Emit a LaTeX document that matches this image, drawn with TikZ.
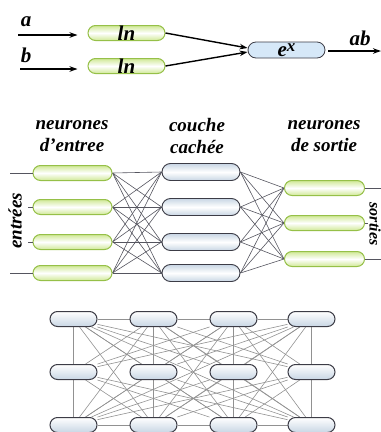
\documentclass[tikz,border=0pt]{standalone}
\usepackage{fontspec}
\setmainfont{Liberation Serif}
\usetikzlibrary{arrows.meta,backgrounds}
\definecolor{gedge}{RGB}{150,192,72}
\definecolor{gfill}{RGB}{208,232,150}
\definecolor{bfill}{RGB}{200,214,228}
\definecolor{efill}{RGB}{214,232,248}
\definecolor{nline}{RGB}{60,60,70}
\definecolor{mline}{RGB}{85,85,95}
\definecolor{gline}{RGB}{145,145,145}
\begin{document}
\begin{tikzpicture}[x=1pt,y=-1pt,
  txt/.style={font=\fontsize{19}{22}\selectfont\bfseries\itshape, inner sep=0pt},
  bigtxt/.style={font=\fontsize{21}{22}\selectfont\bfseries\itshape, inner sep=0pt},
  pill/.style={rectangle, rounded corners=7.5pt, minimum width=77pt, minimum height=15pt, inner sep=0pt},
  gnode/.style={pill, draw=gedge, line width=1pt, top color=gfill, bottom color=gfill, middle color=white},
  hnode/.style={pill, draw=nline, line width=0.9pt, top color=bfill, bottom color=bfill, middle color=white, minimum height=17pt, rounded corners=8.5pt, minimum width=78pt},
  enode/.style={pill, draw=nline, line width=0.8pt, fill=efill, minimum height=16pt, rounded corners=8pt},
  knode/.style={pill, draw=nline, line width=1pt, top color=white, bottom color=bfill, minimum width=47pt, minimum height=15pt},
  arr/.style={line width=1.4pt, -{Stealth[length=8pt,width=5.5pt]}},
  net/.style={mline, line width=0.6pt},
  stub/.style={mline, line width=0.6pt},
  gridl/.style={gline, line width=0.6pt}
]
\useasboundingbox (0,0) rectangle (381,432);

% ---------- top: ln / e^x ----------
\node[gnode, bigtxt] (ln1) at (126.5,33) {ln};
\node[gnode, bigtxt] (ln2) at (126.5,66) {ln};
\node[enode, bigtxt] (ex) at (286.5,50) {e\raisebox{5pt}{\fontsize{17}{17}\selectfont x}};
\coordinate (ain) at (18,35);
\coordinate (bin) at (20,69);
\coordinate (abend) at (381,51);
\node[bigtxt] (la) at (26,22) {a};
\node[bigtxt] (lb) at (26,55) {b};
\node[bigtxt] (lab) at (360,38) {ab};
\draw[arr, shorten >=10pt] (ain) -- (ain -| ln1.west);
\draw[arr, shorten >=10pt] (bin) -- (bin -| ln2.west);
\draw[arr] (ln1.east) -- ([yshift=2pt]ex.west);
\draw[arr] (ln2.east) -- ([yshift=-2pt]ex.west);
\draw[arr] ([xshift=3pt]ex.east |- abend) -- (abend);

% ---------- middle: layered network ----------
\node[txt, align=center] (t1) at (72,136) {neurones\\d’entree};
\node[txt, align=center] (t2) at (197,136) {couche\\cachée};
\node[txt, align=center] (t3) at (324,136) {neurones\\de sortie};

\foreach \i/\y in {1/173,2/207,3/242,4/273}
  \node[gnode, minimum width=79pt] (i\i) at (72.5,\y) {};
\foreach \i/\y in {1/172,2/207,3/242,4/273}
  \node[hnode] (c\i) at (201,\y) {};
\foreach \i/\y in {1/188,2/223,3/259}
  \node[gnode, minimum width=80pt] (o\i) at (324.5,\y) {};

\begin{scope}[on background layer]
  \foreach \i in {1,...,4}
    \foreach \j in {1,...,4}
      \draw[net] (i\i.east) -- (c\j.west);
  \foreach \i in {1,...,4}
    \foreach \j in {1,...,3}
      \draw[net] (c\i.east) -- (o\j.west);
\end{scope}

\coordinate (s1) at (10,173);
\coordinate (s2) at (28,207);
\coordinate (s3) at (28,242);
\coordinate (s4) at (10,273);
\coordinate (r1) at (381,188);
\coordinate (r2) at (368,223);
\coordinate (r3) at (381,259);
\foreach \k in {1,...,4} \draw[stub] (s\k) -- (i\k.west);
\foreach \k in {1,...,3} \draw[stub] (o\k.east) -- (r\k);

\node[txt, rotate=90] (ent) at (15,221) {entrées};
\node[txt, font=\fontsize{16}{18}\selectfont\bfseries\itshape, rotate=-90] (sor) at (375,224) {sorties};

% ---------- bottom: fully connected grid ----------
\foreach \r/\y in {1/319,2/372,3/425}
  \foreach \c/\x in {1/73.5,2/153.5,3/233.5,4/311.5}
    \node[knode] (k\r\c) at (\x,\y) {};

\begin{scope}[on background layer]
  \foreach \c/\d in {1/2,2/3,3/4} {
    \draw[gridl] (k1\c) -- (k1\d);
    \draw[gridl] (k3\c) -- (k3\d);
  }
  \foreach \a in {1,...,4}
    \foreach \b in {1,...,4} {
      \draw[gridl] (k1\a) -- (k2\b);
      \draw[gridl] (k2\a) -- (k3\b);
      \draw[gridl] (k1\a) -- (k3\b);
    }
\end{scope}
\end{tikzpicture}
\end{document}
